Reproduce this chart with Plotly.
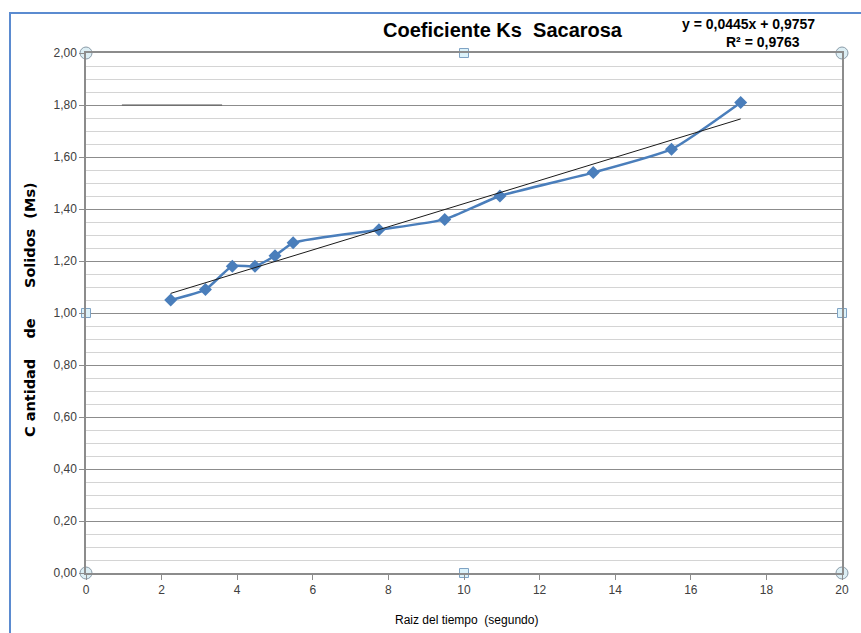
import plotly.graph_objects as go

# Data
raiz_tiempo = [2.24, 3.16, 3.87, 4.47, 5.00, 5.48, 7.75, 9.49, 10.95, 13.42, 15.49, 17.32]
solidos_ms = [1.05, 1.09, 1.18, 1.18, 1.22, 1.27, 1.32, 1.36, 1.45, 1.54, 1.63, 1.81]

# Trendline (as shown on chart)
slope = 0.0445
intercept = 0.9757
r2_text = "R² = 0,9763"
eq_text = "y = 0,0445x + 0,9757"

x_tick_vals = list(range(0, 21, 2))
y_tick_vals = [0.0, 0.2, 0.4, 0.6, 0.8, 1.0, 1.2, 1.4, 1.6, 1.8, 2.0]

# Selection handles (Excel chart selection)
handle_circle_x = [0, 0, 20, 20]
handle_circle_y = [0, 2, 2, 0]
handle_square_x = [10, 10, 0, 20]
handle_square_y = [2, 0, 1, 1]

font_main = "Liberation Sans Narrow, Liberation Sans, Arial"
font_eq = "Liberation Sans, Arial"
font_ytitle = "DejaVu Sans, Verdana"

FW, FH = 861, 633
L, T, PW, PH = 86, 53, 756, 520


def px(x):
    return (x - L) / PW


def py(y):
    return 1 + (T - y) / PH


fig = go.Figure()

trend_x = [raiz_tiempo[0], raiz_tiempo[-1]]
trend_y = [slope * v + intercept for v in trend_x]

fig.add_trace(go.Scatter(
    x=raiz_tiempo, y=solidos_ms, mode="lines+markers",
    line=dict(color="#4a7ebb", width=2.5, shape="spline", smoothing=0.5),
    marker=dict(symbol="diamond", size=10, color="#4a7ebb"),
    showlegend=False, hoverinfo="x+y",
))
fig.add_trace(go.Scatter(
    x=trend_x, y=trend_y, mode="lines",
    line=dict(color="#1a1a1a", width=1),
    showlegend=False, hoverinfo="skip",
))
fig.add_trace(go.Scatter(
    x=handle_circle_x, y=handle_circle_y, mode="markers",
    marker=dict(symbol="circle", size=12, color="#dceef4", line=dict(color="#8a9ba8", width=1)),
    cliponaxis=False, showlegend=False, hoverinfo="skip",
))
fig.add_trace(go.Scatter(
    x=handle_square_x, y=handle_square_y, mode="markers",
    marker=dict(symbol="square", size=9, color="#dcf2fa", line=dict(color="#7fa3c4", width=1)),
    cliponaxis=False, showlegend=False, hoverinfo="skip",
))

fig.update_layout(
    width=FW, height=FH,
    margin=dict(l=L, r=FW - L - PW, t=T, b=FH - T - PH),
    paper_bgcolor="white", plot_bgcolor="white",
    separators=",.",
    font=dict(family=font_main, size=11, color="#404040"),
    xaxis=dict(
        range=[0, 20], tickvals=x_tick_vals, showgrid=False, zeroline=False,
        showline=True, linecolor="#8c8c8c", linewidth=1.5, mirror=True,
        ticks="outside", ticklen=5, tickcolor="#8c8c8c",
        tickfont=dict(family=font_main, size=12, color="#404040"),
    ),
    yaxis=dict(
        range=[0, 2], tickvals=y_tick_vals, tickformat=".2f", zeroline=False,
        showgrid=True, gridcolor="#8c8c8c", gridwidth=1,
        minor=dict(dtick=0.05, showgrid=True, gridcolor="#d4d4d4", gridwidth=1),
        showline=True, linecolor="#8c8c8c", linewidth=1.5, mirror=True,
        ticks="outside", ticklen=5, tickcolor="#8c8c8c",
        tickfont=dict(family=font_main, size=12, color="#404040"),
    ),
    shapes=[
        dict(type="line", xref="x", yref="y", x0=0.95, x1=3.6, y0=1.8, y1=1.8,
             line=dict(color="#555555", width=1.2)),
        dict(type="rect", xref="paper", yref="paper", x0=px(10), x1=1.3,
             y0=-0.3, y1=py(13), line=dict(color="#5b8bd0", width=2),
             layer="below"),
    ],
    annotations=[
        dict(text="<b>Coeficiente Ks\u00a0\u00a0Sacarosa</b>", xref="paper", yref="paper",
             x=px(503), y=py(30), xanchor="center", yanchor="middle",
             showarrow=False, font=dict(family=font_main, size=20, color="#000000")),
        dict(text="<b>" + eq_text + "</b>", xref="paper", yref="paper",
             x=px(748), y=py(24), xanchor="center", yanchor="middle",
             showarrow=False, font=dict(family=font_eq, size=14, color="#000000")),
        dict(text="<b>" + r2_text + "</b>", xref="paper", yref="paper",
             x=px(763), y=py(42), xanchor="center", yanchor="middle",
             showarrow=False, font=dict(family=font_eq, size=14, color="#000000")),
        dict(text="Raiz del tiempo\u00a0\u00a0(segundo)", xref="paper", yref="paper",
             x=px(466), y=py(620), xanchor="center", yanchor="middle",
             showarrow=False, font=dict(family=font_main, size=12, color="#000000")),
        dict(text="<b>C antidad\u00a0\u00a0\u00a0\u00a0de\u00a0\u00a0\u00a0\u00a0\u00a0\u00a0Solidos\u00a0\u00a0(Ms)</b>",
             xref="paper", yref="paper", textangle=-90,
             x=px(30), y=py(310), xanchor="center", yanchor="middle",
             showarrow=False, font=dict(family=font_ytitle, size=14.5, color="#000000")),
    ],
)

fig.write_html(
    "out.html",
    config={"displayModeBar": False},
    post_script="document.documentElement.style.overflow='hidden';"
                "document.body.style.margin='0';document.body.style.overflow='hidden';",
)
